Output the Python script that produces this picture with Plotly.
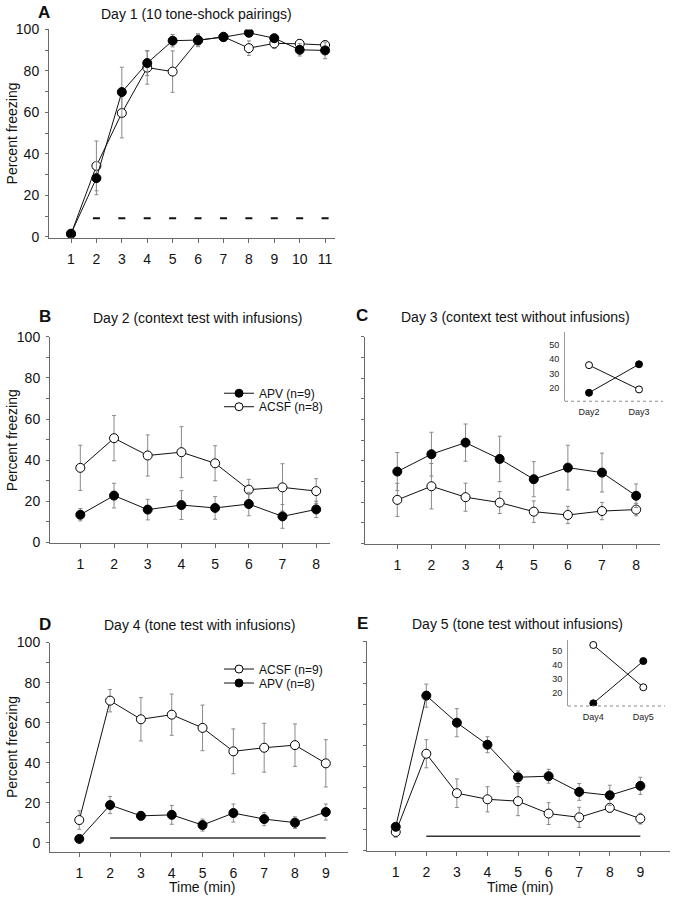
import plotly.graph_objects as go

W, H = 674, 899
FONT = "Arial, 'Liberation Sans', sans-serif"

# ---------------- DATA ----------------
# Panel A: Day 1 (10 tone-shock pairings)
a_x = list(range(1, 12))
a_filled = [1.5, 28.3, 69.8, 83.8, 94.6, 94.9, 96.3, 98.4, 95.8, 90.2, 89.9]
a_filled_err = [0.5, 8.0, 12.0, 6.0, 3.0, 3.0, 1.0, 1.0, 1.5, 3.0, 4.0]
a_open = [1.3, 34.2, 59.7, 81.6, 79.7, 94.7, 96.5, 91.0, 93.3, 93.1, 92.5]
a_open_err = [0.5, 12.0, 12.0, 8.0, 10.0, 3.0, 1.0, 3.5, 2.5, 2.0, 2.0]
shock_x = [2, 3, 4, 5, 6, 7, 8, 9, 10, 11]
shock_y = [9, 9, 9, 9, 9, 9, 9, 9, 9, 9]

# Panel B: Day 2 (context test with infusions)
b_x = list(range(1, 9))
b_apv = [13.5, 22.8, 16.0, 18.2, 16.8, 18.7, 12.7, 16.1]
b_apv_err = [3.0, 6.0, 5.0, 7.0, 5.5, 5.7, 5.8, 4.0]
b_acsf = [36.3, 50.7, 42.3, 43.9, 38.5, 25.7, 26.8, 25.0]
b_acsf_err = [11.0, 11.0, 10.0, 12.4, 8.5, 5.0, 11.5, 6.0]

# Panel C: Day 3 (context test without infusions)
c_x = list(range(1, 9))
c_apv = [34.8, 43.2, 48.8, 40.9, 31.1, 36.7, 34.3, 23.1]
c_apv_err = [9.2, 10.6, 9.0, 11.0, 8.5, 10.8, 9.4, 5.7]
c_acsf = [21.1, 27.7, 22.4, 19.8, 15.4, 13.8, 15.7, 16.4]
c_acsf_err = [8.0, 11.0, 6.8, 5.3, 5.2, 4.2, 4.2, 3.0]
# inset C
c_in_days = ["Day2", "Day3"]
c_in_apv = [16.8, 36.4]
c_in_acsf = [35.8, 19.1]

# Panel D: Day 4 (tone test with infusions)
d_x = list(range(1, 10))
d_acsf = [11.4, 71.0, 61.7, 64.0, 57.4, 45.7, 47.5, 48.8, 39.7]
d_acsf_err = [4.6, 5.6, 10.8, 10.3, 11.4, 11.2, 12.2, 10.6, 11.8]
d_apv = [2.0, 18.9, 13.5, 14.0, 8.9, 14.9, 11.9, 10.1, 15.4]
d_apv_err = [0.8, 4.3, 2.0, 4.7, 3.0, 4.5, 3.3, 2.9, 4.0]
tone_x = [2, 9]
d_tone_y = [2.5, 2.5]

# Panel E: Day 5 (tone test without infusions)
e_x = list(range(1, 10))
e_apv = [11.5, 74.0, 61.1, 50.6, 35.1, 35.6, 28.1, 26.5, 31.0]
e_apv_err = [1.5, 5.5, 6.7, 3.8, 3.0, 3.3, 4.0, 4.8, 4.1]
e_acsf = [9.0, 46.3, 27.5, 24.6, 23.7, 17.8, 16.0, 20.5, 15.4]
e_acsf_err = [2.5, 6.7, 6.8, 6.0, 6.9, 5.2, 4.8, 2.0, 2.6]
e_tone_y = [7.0, 7.0]
# inset E
e_in_days = ["Day4", "Day5"]
e_in_apv = [12.9, 42.9]
e_in_acsf = [54.3, 24.3]

# ---------------- HELPERS ----------------
def PY(y):
    # vertical pixel position in the figure (compensates the observed page scaling)
    return (y - 7.5) / 0.984

def xd(x0, x1):
    return [x0 / W, x1 / W]

def yd(ytop, ybot):
    return [1 - PY(ybot) / H, 1 - PY(ytop) / H]

AX = "#6a6a6a"
ERR = "#8a8a8a"

fig = go.Figure()

def series(xv, yv, ev, filled, ax, size=9):
    fig.add_trace(go.Scatter(
        x=xv, y=yv, mode="lines+markers",
        line=dict(color="#111", width=1),
        marker=dict(symbol="circle", size=size,
                    color="#000" if filled else "#fff",
                    line=dict(color="#000", width=1)),
        error_y=dict(type="data", array=ev, color=ERR, thickness=1, width=2) if ev is not None else None,
        xaxis="x" + ax, yaxis="y" + ax, showlegend=False,
    ))

# A
series(a_x, a_open, a_open_err, False, "")
series(a_x, a_filled, a_filled_err, True, "")
fig.add_trace(go.Scatter(x=shock_x, y=shock_y, mode="markers",
                         marker=dict(symbol="line-ew", size=5, line=dict(color="#111", width=2)),
                         xaxis="x", yaxis="y", showlegend=False))
# B
series(b_x, b_acsf, b_acsf_err, False, "2")
series(b_x, b_apv, b_apv_err, True, "2")
# C
series(c_x, c_acsf, c_acsf_err, False, "3")
series(c_x, c_apv, c_apv_err, True, "3")
# D
fig.add_trace(go.Scatter(x=tone_x, y=d_tone_y, mode="lines", line=dict(color="#333", width=1.5),
                         xaxis="x4", yaxis="y4", showlegend=False))
series(d_x, d_apv, d_apv_err, True, "4")
series(d_x, d_acsf, d_acsf_err, False, "4")
# E
fig.add_trace(go.Scatter(x=tone_x, y=e_tone_y, mode="lines", line=dict(color="#333", width=1.5),
                         xaxis="x5", yaxis="y5", showlegend=False))
series(e_x, e_acsf, e_acsf_err, False, "5")
series(e_x, e_apv, e_apv_err, True, "5")
# insets
series(c_in_days, c_in_acsf, None, False, "6", size=7)
series(c_in_days, c_in_apv, None, True, "6", size=7)
series(e_in_days, e_in_acsf, None, False, "7", size=7)
series(e_in_days, e_in_apv, None, True, "7", size=7)

# legend entries: one legend per entry so rows can be spaced tightly
def legend_entry(name, filled, legend):
    fig.add_trace(go.Scatter(
        x=[None], y=[None], mode="lines+markers",
        line=dict(color="#111", width=1),
        marker=dict(symbol="circle", size=8, color="#000" if filled else "#fff",
                    line=dict(color="#000", width=1)),
        xaxis="x2", yaxis="y2", name=name, showlegend=True, legend=legend))

legend_entry("APV (n=9)", True, "legend")
legend_entry("ACSF (n=8)", False, "legend2")
legend_entry("ACSF (n=9)", False, "legend3")
legend_entry("APV (n=8)", True, "legend4")

tickfont = dict(family=FONT, size=14, color="#111")

def xaxis(dom, rng, tickvals, anchor):
    return dict(domain=dom, range=rng, tickvals=tickvals, ticktext=[str(v) for v in tickvals],
                showline=True, linecolor=AX, linewidth=1, ticks="outside", ticklen=4,
                tickcolor=AX, tickfont=tickfont, showgrid=False, zeroline=False,
                anchor=anchor, ticklabelstandoff=4)

def yaxis(dom, rng, labels, anchor):
    d = dict(domain=dom, range=rng, showline=True, linecolor=AX, linewidth=1,
             ticks="outside", ticklen=3, tickcolor=AX, tickfont=tickfont,
             showgrid=False, zeroline=False, anchor=anchor)
    if labels:
        d.update(tickvals=[0, 20, 40, 60, 80, 100],
                 minor=dict(tickvals=[10, 30, 50, 70, 90], ticks="outside", ticklen=3, tickcolor=AX),
                 ticklabelstandoff=3)
    else:
        d.update(tickvals=[0, 10, 20, 30, 40, 50, 60, 70, 80, 90, 100], showticklabels=False)
    return d

def inset_axes(xdom, ydom, xr, yr, anchorx, anchory):
    fx = dict(domain=xdom, range=xr, type="category", showline=False,
              ticks="", tickfont=dict(family=FONT, size=9, color="#222"),
              showgrid=False, zeroline=False, anchor=anchory, ticklabelstandoff=4)
    fy = dict(domain=ydom, range=yr, tickvals=[20, 30, 40, 50], showline=True,
              linecolor="#9a9a9a", linewidth=1, ticks="",
              tickfont=dict(family=FONT, size=9, color="#222"),
              showgrid=False, zeroline=False, anchor=anchorx, ticklabelstandoff=3)
    return fx, fy

def legend_box(y_center):
    return dict(x=219 / W, y=1 - PY(y_center) / H, xanchor="left", yanchor="middle",
                bgcolor="rgba(0,0,0,0)", font=dict(family=FONT, size=12, color="#111"),
                itemwidth=30, borderwidth=0)

layout = dict(
    width=W, height=H, margin=dict(l=0, r=0, t=0, b=0, pad=0),
    paper_bgcolor="white", plot_bgcolor="rgba(0,0,0,0)",
    font=dict(family=FONT, color="#111"),
    xaxis=xaxis(xd(49, 335), [0.134, 11.39], a_x, "y"),
    yaxis=yaxis(yd(29, 237.5), [-0.5, 100], True, "x"),
    xaxis2=xaxis(xd(50, 330), [0.10, 8.41], b_x, "y2"),
    yaxis2=yaxis(yd(336.5, 543), [-0.3, 100], True, "x2"),
    xaxis3=xaxis(xd(365, 660), [0.053, 8.7], c_x, "y3"),
    yaxis3=yaxis(yd(336.5, 544), [-0.3, 100], False, "x3"),
    xaxis4=xaxis(xd(50, 348), [0.05, 9.72], d_x, "y4"),
    yaxis4=yaxis(yd(642.5, 852), [-4.5, 100], True, "x4"),
    xaxis5=xaxis(xd(367, 670), [0.06, 9.97], e_x, "y5"),
    yaxis5=yaxis(yd(641, 851), [0, 100], False, "x5"),
    legend=legend_box(393),
    legend2=legend_box(406.5),
    legend3=legend_box(669),
    legend4=legend_box(683),
    showlegend=True,
)
fx6, fy6 = inset_axes(xd(565, 663), yd(332, 401), [-0.48, 1.48], [11, 58.4], "x6", "y6")
fx7, fy7 = inset_axes(xd(568, 665), yd(640, 706), [-0.506, 1.434], [11, 57.8], "x7", "y7")
layout.update(xaxis6=fx6, yaxis6=fy6, xaxis7=fx7, yaxis7=fy7)
fig.update_layout(**layout)

# dotted baseline of the insets
for ax in ("6", "7"):
    fig.add_shape(type="line", xref=f"x{ax} domain", yref=f"y{ax} domain",
                  x0=0, x1=1, y0=0, y1=0, line=dict(color="#8a8a8a", width=1.2, dash="dot"))

def ann(text, x, y, size=14, bold=False, angle=0):
    fig.add_annotation(text=f"<b>{text}</b>" if bold else text, x=x / W, y=1 - PY(y) / H,
                       xref="paper", yref="paper", showarrow=False, textangle=angle,
                       font=dict(family=FONT, size=size, color="#111"),
                       xanchor="center", yanchor="middle")

ann("A", 44, 12, 17, True)
ann("Day 1 (10 tone-shock pairings)", 196, 14)
ann("B", 45, 316, 17, True)
ann("Day 2 (context test with infusions)", 197, 318)
ann("C", 362, 315, 17, True)
ann("Day 3 (context test without infusions)", 515, 317)
ann("D", 45, 624, 17, True)
ann("Day 4 (tone test with infusions)", 200, 625)
ann("E", 362, 623, 17, True)
ann("Day 5 (tone test without infusions)", 517, 624)
ann("Percent freezing", 12, 133, 14, angle=-90)
ann("Percent freezing", 12, 440, 14, angle=-90)
ann("Percent freezing", 12, 747, 14, angle=-90)
ann("Time (min)", 202, 887)
ann("Time (min)", 520, 887)

fig.write_html("out.html", config={"displayModeBar": False},
               post_script="document.body.style.margin='0';document.body.style.overflow='hidden';")
